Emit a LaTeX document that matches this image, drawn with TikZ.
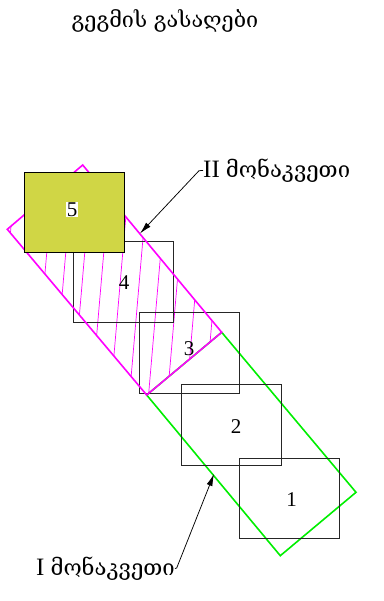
\documentclass[tikz,border=0pt]{standalone}
\usepackage{fontspec}
\setmainfont{DejaVu Serif}
\newfontfamily\latinf{Liberation Serif}
\usetikzlibrary{arrows.meta}
\definecolor{olivefill}{HTML}{D0D645}
\definecolor{cutmagenta}{HTML}{FF00FF}
\definecolor{cutgreen}{HTML}{00EE00}
\tikzset{
  plan/.style={draw=black!85,line width=0.8pt,minimum width=100pt,minimum height=80.5pt,inner sep=0pt,outer sep=0pt},
  num/.style={inner sep=0.5pt,font=\latinf\fontsize{21}{21}\selectfont},
  captext/.style={inner sep=0pt,font=\fontsize{21.6}{24}\selectfont},
  labeltext/.style={inner sep=0pt,font=\fontsize{22.1}{24}\selectfont},
  cutline/.style={line width=1.6pt,line join=miter},
  hatch/.style={draw=cutmagenta,line width=0.7pt},
  lead/.style={draw=black,line width=0.75pt,-{Latex[length=12pt,width=6pt]}}
}
\begin{document}
\begin{tikzpicture}[x=1pt,y=-1pt]
\useasboundingbox (0,0) rectangle (383,601);
% section outlines
\draw[cutline,draw=cutgreen] (221.7,332.3) -- (356,492.3) -- (280.3,555.7) -- (146.7,395) -- cycle;
\begin{scope}
\clip (82.7,165) -- (221.7,332.3) -- (146.7,395) -- (7.3,229.3) -- cycle;
\foreach \k in {-2,...,9,10}
  \draw[hatch] ({46.7+19*\k+0.0857*103.3},150) -- ({46.7+19*\k-0.0857*156.7},410);
\end{scope}
\node[plan] (s4) at (123,282) {};
\node[plan] (s3) at (189,353) {};
\node[plan] (s2) at (231.6,425) {};
\node[plan] (s1) at (289.2,498.6) {};
\draw[cutline,draw=cutmagenta] (82.7,165) -- (221.7,332.3) -- (146.7,395) -- (7.3,229.3) -- cycle;
\node[plan,fill=olivefill,draw=black] (s5) at (74.5,212.2) {};
\node[num] (n1) at (291.5,499.5) {1};
\node[num] (n2) at (236,426.5) {2};
\node[num] (n3) at (189,348.5) {3};
\node[num] (n4) at (124,283) {4};
\node[num,fill=white] (n5) at (72,209.5) {5};
\node[captext] (title) at (165,20.5) {გეგმის გასაღები};
\node[labeltext,anchor=west] (lab2) at (203,170.5) {{\latinf\fontsize{25}{25}\selectfont II}\hspace{-1pt} მონაკვეთი};
\node[labeltext,anchor=west] (lab1) at (36,568.5) {{\latinf\fontsize{25}{25}\selectfont I}\hspace{-1pt} მონაკვეთი};
\coordinate (tip2) at (140,233.5);
\coordinate (tip1) at (214,474);
\draw[lead] (lab2.west) -- (199,170.7) -- (tip2);
\draw[lead] (lab1.east) -- (176.7,568) -- (tip1);
\end{tikzpicture}
\end{document}
